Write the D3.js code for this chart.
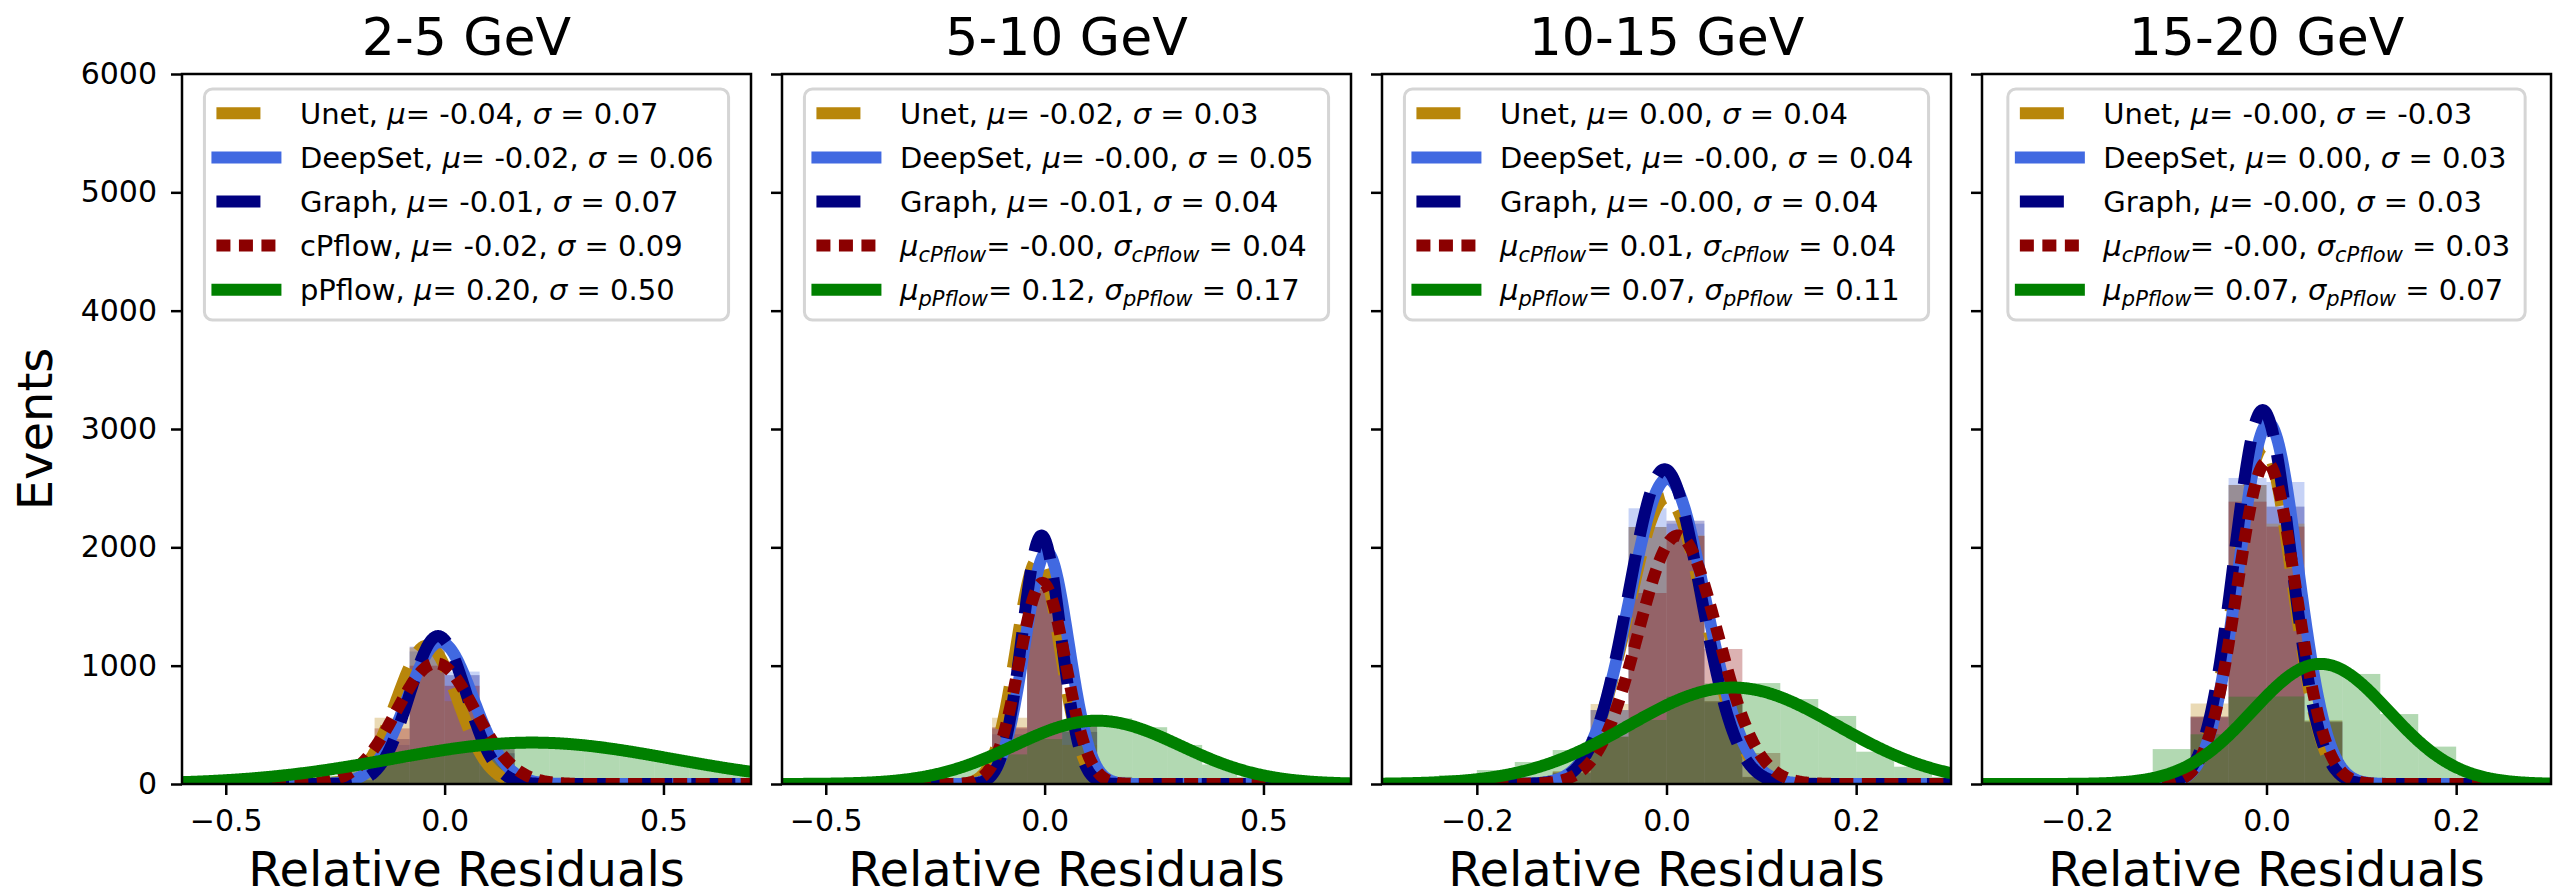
<!DOCTYPE html>
<html>
<head>
<meta charset="utf-8">
<script src="https://cdn.jsdelivr.net/npm/d3@7"></script>
<style>
  html, body { margin: 0; padding: 0; background: #fff; }
  svg { display: block; font-family: 'DejaVu Sans', sans-serif; }
</style>
</head>
<body>
<svg id="chart" width="2565" height="893"></svg>
<script>
// ---------- panels and axes ----------
const panelTitles = ['2-5 GeV', '5-10 GeV', '10-15 GeV', '15-20 GeV'];
const xDomains = [[-0.6, 0.7], [-0.6, 0.7], [-0.3, 0.3], [-0.3, 0.3]];
const xTickValues = [[-0.5, 0, 0.5], [-0.5, 0, 0.5], [-0.2, 0, 0.2], [-0.2, 0, 0.2]];
const yTickValues = [0, 1000, 2000, 3000, 4000, 5000, 6000];
const yMax = 6000;
const seriesNames = ['Unet', 'DeepSet', 'Graph', 'cPflow', 'pPflow'];
const histOrder = ['DeepSet', 'Graph', 'Unet', 'cPflow', 'pPflow'];
const flowSubscript = [false, true, true, true];

// ---------- legend statistics ----------
const muUnet = ['-0.04', '-0.02', '0.00', '-0.00'];
const sdUnet = ['0.07', '0.03', '0.04', '-0.03'];
const muDeepSet = ['-0.02', '-0.00', '-0.00', '0.00'];
const sdDeepSet = ['0.06', '0.05', '0.04', '0.03'];
const muGraph = ['-0.01', '-0.01', '-0.00', '-0.00'];
const sdGraph = ['0.07', '0.04', '0.04', '0.03'];
const muCPflow = ['-0.02', '-0.00', '0.01', '-0.00'];
const sdCPflow = ['0.09', '0.04', '0.04', '0.03'];
const muPPflow = ['0.20', '0.12', '0.07', '0.07'];
const sdPPflow = ['0.50', '0.17', '0.11', '0.07'];

// ---------- fitted gaussian curves (centre, width, peak height) ----------
const fitMuUnet = [-0.04, -0.015, 0.0, -0.003];
const fitSdUnet = [0.07, 0.05, 0.04, 0.03];
const fitPeakUnet = [1170, 1900, 2420, 2850];
const fitMuDeepSet = [-0.01, 0.005, 0.001, 0.002];
const fitSdDeepSet = [0.075, 0.05, 0.04, 0.031];
const fitPeakDeepSet = [1200, 1960, 2580, 3050];
const fitMuGraph = [-0.015, -0.007, -0.002, -0.004];
const fitSdGraph = [0.065, 0.044, 0.038, 0.03];
const fitPeakGraph = [1250, 2100, 2660, 3160];
const fitMuCPflow = [-0.02, -0.005, 0.012, 0.0];
const fitSdCPflow = [0.09, 0.053, 0.042, 0.031];
const fitPeakCPflow = [1020, 1700, 2100, 2720];
const fitMuPPflow = [0.2, 0.12, 0.07, 0.057];
const fitSdPPflow = [0.32, 0.19, 0.11, 0.072];
const fitPeakPPflow = [350, 535, 815, 1015];

// ---------- histograms ----------
const binWidth = [0.08, 0.08, 0.04, 0.04];
const histStartModels = [-0.24, -0.2, -0.16, -0.16];
const histUnet = [
  [80, 560, 1150, 700, 150, 15, 0],
  [40, 560, 1680, 330, 15, 0],
  [15, 110, 676, 2172, 2100, 700, 60, 5],
  [20, 90, 680, 2527, 2200, 540, 40, 5]
];
const histDeepSet = [
  [30, 330, 1120, 950, 300, 30, 0],
  [15, 420, 1720, 520, 30, 0],
  [10, 90, 625, 2330, 2200, 690, 55, 5],
  [10, 70, 560, 2586, 2552, 520, 40, 5]
];
const histGraph = [
  [35, 380, 1160, 920, 260, 25, 0],
  [15, 470, 1760, 440, 20, 0],
  [10, 95, 625, 2172, 2225, 700, 60, 5],
  [10, 75, 570, 2527, 2344, 530, 40, 5]
];
const histCPflow = [
  [110, 470, 1000, 830, 300, 60, 10],
  [30, 480, 1640, 520, 60, 10],
  [20, 104, 400, 1614, 2096, 1141, 262, 40],
  [15, 85, 569, 2386, 2175, 527, 50, 8]
];
const histStartPPflow = [-0.64, -0.6, -0.28, -0.28];
const histPPflow = [
  [20, 25, 30, 45, 70, 120, 180, 250, 300, 335, 345, 330, 295, 250, 190, 140, 95],
  [10, 15, 25, 45, 85, 150, 250, 380, 500, 555, 480, 330, 165, 60, 20, 8, 3],
  [40, 76, 118, 186, 287, 400, 541, 738, 850, 853, 718, 575, 273, 146, 60],
  [10, 20, 40, 65, 295, 420, 738, 740, 963, 930, 591, 316, 80, 20, 5]
];

// ---------- styling ----------
const colors = { Unet: '#B8860B', DeepSet: '#4169E1', Graph: '#000080', cPflow: '#8B0000', pPflow: '#008000' };
const dashes = { Unet: '44,19', DeepSet: null, Graph: '44,19', cPflow: '14,8.5', pPflow: null };
const lineWidth = 12;
const histAlpha = 0.3;

const plotTop = 74, plotBottom = 784, plotWidth = 569, firstLeft = 182, panelStep = 600;

const muArr = { Unet: muUnet, DeepSet: muDeepSet, Graph: muGraph, cPflow: muCPflow, pPflow: muPPflow };
const sdArr = { Unet: sdUnet, DeepSet: sdDeepSet, Graph: sdGraph, cPflow: sdCPflow, pPflow: sdPPflow };
const fitMu = { Unet: fitMuUnet, DeepSet: fitMuDeepSet, Graph: fitMuGraph, cPflow: fitMuCPflow, pPflow: fitMuPPflow };
const fitSd = { Unet: fitSdUnet, DeepSet: fitSdDeepSet, Graph: fitSdGraph, cPflow: fitSdCPflow, pPflow: fitSdPPflow };
const fitPeak = { Unet: fitPeakUnet, DeepSet: fitPeakDeepSet, Graph: fitPeakGraph, cPflow: fitPeakCPflow, pPflow: fitPeakPPflow };
const hists = { Unet: histUnet, DeepSet: histDeepSet, Graph: histGraph, cPflow: histCPflow, pPflow: histPPflow };

const svg = d3.select('#chart');

// y-axis label
svg.append('text')
  .attr('transform', `translate(52, ${(plotTop + plotBottom) / 2}) rotate(-90)`)
  .attr('text-anchor', 'middle')
  .attr('font-size', 48)
  .text('Events');

const y = d3.scaleLinear().domain([0, yMax]).range([plotBottom, plotTop]);

panelTitles.forEach((title, i) => {
  const left = firstLeft + i * panelStep;
  const right = left + plotWidth;
  const cx = (left + right) / 2;
  const x = d3.scaleLinear().domain(xDomains[i]).range([left, right]);
  const g = svg.append('g');

  const clipId = 'clip' + i;
  svg.append('clipPath').attr('id', clipId)
    .append('rect').attr('x', left).attr('y', plotTop).attr('width', plotWidth).attr('height', plotBottom - plotTop);

  const plot = g.append('g').attr('clip-path', `url(#${clipId})`);

  // histograms
  histOrder.forEach(name => {
    const counts = hists[name][i];
    const start = name === 'pPflow' ? histStartPPflow[i] : histStartModels[i];
    const w = binWidth[i];
    plot.append('g').selectAll('rect')
      .data(counts)
      .join('rect')
      .attr('x', (d, k) => x(start + k * w))
      .attr('width', (d, k) => x(start + (k + 1) * w) - x(start + k * w))
      .attr('y', d => y(d))
      .attr('height', d => y(0) - y(d))
      .attr('fill', colors[name])
      .attr('fill-opacity', histAlpha);
  });

  // fitted curves
  const xs = d3.range(0, 601).map(k => xDomains[i][0] + (xDomains[i][1] - xDomains[i][0]) * k / 600);
  seriesNames.forEach(name => {
    const mu = fitMu[name][i], sd = fitSd[name][i], pk = fitPeak[name][i];
    const pts = xs.map(v => [v, pk * Math.exp(-0.5 * ((v - mu) / sd) ** 2)]);
    const line = d3.line().x(d => x(d[0])).y(d => y(d[1]));
    const path = plot.append('path')
      .attr('d', line(pts))
      .attr('fill', 'none')
      .attr('stroke', colors[name])
      .attr('stroke-width', lineWidth)
      .attr('stroke-linejoin', 'round');
    if (dashes[name]) path.attr('stroke-dasharray', dashes[name]);
  });

  // axes
  const xAxis = d3.axisBottom(x).tickValues(xTickValues[i]).tickFormat(d3.format('.1f')).tickSize(11).tickPadding(15);
  const gx = g.append('g').attr('transform', `translate(0, ${plotBottom})`).call(xAxis);
  gx.select('.domain').remove();
  gx.selectAll('line').attr('stroke', '#000').attr('stroke-width', 2.5);
  gx.selectAll('text').attr('font-size', 30).attr('font-family', 'DejaVu Sans').attr('fill', '#000');

  const yAxis = d3.axisLeft(y).tickValues(yTickValues).tickFormat(i === 0 ? d3.format('d') : () => '').tickSize(11).tickPadding(14);
  const gy = g.append('g').attr('transform', `translate(${left}, 0)`).call(yAxis);
  gy.select('.domain').remove();
  gy.selectAll('line').attr('stroke', '#000').attr('stroke-width', 2.5);
  gy.selectAll('text').attr('font-size', 30).attr('font-family', 'DejaVu Sans').attr('fill', '#000');

  // frame
  g.append('rect')
    .attr('x', left).attr('y', plotTop).attr('width', plotWidth).attr('height', plotBottom - plotTop)
    .attr('fill', 'none').attr('stroke', '#000').attr('stroke-width', 2.5);

  // title and x label
  g.append('text').attr('x', cx).attr('y', 55).attr('text-anchor', 'middle').attr('font-size', 52).text(title);
  g.append('text').attr('x', cx).attr('y', 886).attr('text-anchor', 'middle').attr('font-size', 48).text('Relative Residuals');

  // legend
  const leg = g.append('g');
  const box = leg.append('rect');
  const rowTop = 113.3, rowStep = 44.1, textX = 95.5;
  let maxW = 0;
  seriesNames.forEach((name, r) => {
    const ry = rowTop + r * rowStep;
    const parts = [];
    const useSub = (name === 'cPflow' || name === 'pPflow') && flowSubscript[i];
    if (useSub) {
      parts.push({ t: 'μ', it: true }, { t: name, it: true, sub: true }, { t: '= ' + muArr[name][i] + ', ' },
                 { t: 'σ', it: true }, { t: name, it: true, sub: true }, { t: ' = ' + sdArr[name][i] });
    } else {
      parts.push({ t: name + ', ' }, { t: 'μ', it: true }, { t: '= ' + muArr[name][i] + ', ' },
                 { t: 'σ', it: true }, { t: ' = ' + sdArr[name][i] });
    }
    const txt = leg.append('text')
      .attr('x', textX).attr('y', ry + 10.5)
      .attr('font-size', 29)
      .style('white-space', 'pre');
    let shifted = false;
    parts.forEach(p => {
      const ts = txt.append('tspan').text(p.t);
      if (p.it) ts.attr('font-style', 'italic');
      if (p.sub) { ts.attr('font-size', 21).attr('dy', 6); shifted = true; }
      else if (shifted) { ts.attr('dy', -6); shifted = false; }
    });
    maxW = Math.max(maxW, txt.node().getComputedTextLength());

    // handle
    const h = leg.append('line')
      .attr('y1', ry).attr('y2', ry)
      .attr('stroke', colors[name]).attr('stroke-width', lineWidth);
    if (name === 'Unet' || name === 'Graph') h.attr('x1', 12).attr('x2', 56);
    else if (name === 'cPflow') h.attr('x1', 12).attr('x2', 71).attr('stroke-dasharray', dashes[name]);
    else h.attr('x1', 7).attr('x2', 77);
  });
  const boxW = textX + maxW + 15;
  box.attr('x', 0).attr('y', 89).attr('width', boxW).attr('height', 231)
    .attr('rx', 8).attr('ry', 8)
    .attr('fill', '#fff').attr('fill-opacity', 0.8)
    .attr('stroke', '#d5d5d5').attr('stroke-width', 3);
  leg.attr('transform', `translate(${cx - boxW / 2}, 0)`);
});
</script>
</body>
</html>
